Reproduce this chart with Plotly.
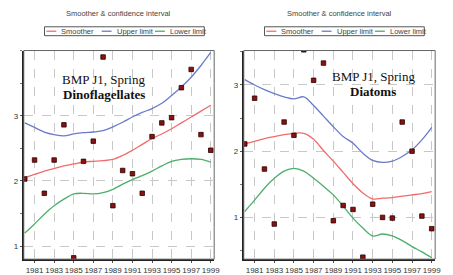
import plotly.graph_objects as go

years = list(range(1980, 2000))

# Dinoflagellates (left)
dino_obs = [2.03, 2.32, 1.81, 2.32, 2.86, 0.82, 2.30, 2.61, 3.90, 1.62,
            2.16, 2.11, 1.81, 2.68, 2.89, 2.97, 3.43, 3.71, 2.71, 2.47]
dino_smooth = [2.05, 2.10, 2.15, 2.19, 2.23, 2.26, 2.29, 2.30, 2.31, 2.33,
               2.39, 2.47, 2.56, 2.65, 2.72, 2.80, 2.89, 2.98, 3.07, 3.16]
dino_upper = [2.89, 2.82, 2.75, 2.71, 2.69, 2.72, 2.74, 2.75, 2.77, 2.83,
              2.90, 2.98, 3.05, 3.11, 3.19, 3.31, 3.44, 3.59, 3.77, 3.97]
dino_lower = [1.20, 1.34, 1.49, 1.62, 1.72, 1.80, 1.81, 1.80, 1.82, 1.87,
              1.95, 2.02, 2.08, 2.15, 2.23, 2.30, 2.33, 2.34, 2.33, 2.29]

# Diatoms (right)
diat_obs = [2.11, 2.80, 1.73, 0.90, 2.44, 2.24, 3.53, 3.07, 3.33, 0.95,
            1.18, 1.12, 0.40, 1.20, 1.00, 0.99, 2.44, 2.00, 1.02, 0.83]
diat_smooth = [2.11, 2.15, 2.19, 2.22, 2.25, 2.27, 2.27, 2.18, 2.01, 1.85,
               1.68, 1.51, 1.37, 1.28, 1.29, 1.30, 1.32, 1.34, 1.36, 1.39]
diat_upper = [3.08, 3.00, 2.93, 2.87, 2.82, 2.79, 2.82, 2.69, 2.53, 2.37,
              2.22, 2.12, 1.97, 1.86, 1.83, 1.85, 1.92, 2.02, 2.17, 2.36]
diat_lower = [1.09, 1.26, 1.44, 1.59, 1.70, 1.74, 1.70, 1.59, 1.47, 1.34,
              1.17, 0.99, 0.84, 0.72, 0.75, 0.72, 0.65, 0.56, 0.48, 0.39]

xtick_vals = list(range(1981, 2000, 2))
xtick_text = [str(v) for v in xtick_vals]
ytick_vals = [1, 2, 3]
ytick_text = ["1", "2", "3"]

series_names = ["Smoother", "Upper limit", "Lower limit"]
series_colors = ["#F26B6B", "#6A7BC8", "#4CAE6A"]

# page body has an 8px margin; work in window pixels and shift
OFF = 8
WIN_W, WIN_H = 453, 275
W, H = WIN_W - OFF, WIN_H - OFF


def px(x):
    return (x - OFF) / W


def py(y):
    return 1 - (y - OFF) / H


panels = [
    dict(xa="x", ya="y", x0=24, x1=217, yr=[0.8, 4.0],
         obs=dino_obs, lines=[dino_smooth, dino_upper, dino_lower],
         label1="BMP J1, Spring", label2="Dinoflagellates", lx=105, ly1=80, ly2=95),
    dict(xa="x2", ya="y2", x0=247, x1=441, yr=[0.37, 3.52],
         obs=diat_obs, lines=[diat_smooth, diat_upper, diat_lower],
         label1="BMP J1, Spring", label2="Diatoms", lx=378, ly1=77, ly2=92),
]
ytop, ybot = 51, 262

fig = go.Figure()
annotations = []
shapes = []

for i, p in enumerate(panels):
    for name, col, vals in zip(series_names, series_colors, p["lines"]):
        fig.add_trace(go.Scatter(x=years, y=vals, mode="lines", name=name,
                                 line=dict(color=col, width=1.3, shape="spline"),
                                 xaxis=p["xa"], yaxis=p["ya"], showlegend=False))
    fig.add_trace(go.Scatter(x=years, y=p["obs"], mode="markers", name="obs",
                             marker=dict(symbol="square", size=4.5, color="#8B1010",
                                         line=dict(color="#2a0000", width=0.8)),
                             xaxis=p["xa"], yaxis=p["ya"], showlegend=False))
    suffix = "" if i == 0 else "2"
    axstyle = dict(showline=True, linecolor="#222", linewidth=2, mirror=False,
                   showgrid=True, gridcolor="#c8c8c8", griddash="dash", gridwidth=1,
                   zeroline=False, tickfont=dict(size=8, color="#333", family="Liberation Sans"),
                   ticks="outside", ticklen=2, tickcolor="#555")
    fig.layout["xaxis" + suffix] = dict(
        domain=[px(p["x0"]), px(p["x1"])], anchor="y" + suffix,
        range=[1979.9, 1999.35], tickvals=xtick_vals, ticktext=xtick_text,
        tickangle=0, **axstyle)
    fig.layout["yaxis" + suffix] = dict(
        domain=[py(ybot), py(ytop)], anchor="x" + suffix,
        range=p["yr"], tickvals=ytick_vals, ticktext=ytick_text,
        minor=dict(dtick=0.5, ticks="outside", ticklen=2, tickcolor="#777", showgrid=False),
        **axstyle)
    shapes.append(dict(type="rect", xref="x" + suffix + " domain", yref="y" + suffix + " domain",
                       x0=0, x1=1, y0=0, y1=1, line=dict(color="#666", width=1), layer="above"))
    cx = (p["x0"] + p["x1"]) / 2
    annotations.append(dict(text="Smoother & confidence interval", x=px(cx), y=py(14),
                            xanchor="center", yanchor="middle",
                            xref="paper", yref="paper", showarrow=False,
                            font=dict(size=7.5, color="#444", family="Liberation Sans")))
    annotations.append(dict(text=p["label1"], x=px(p["lx"]), y=py(p["ly1"]),
                            xanchor="center", yanchor="middle",
                            xref="paper", yref="paper", showarrow=False,
                            font=dict(size=13, color="#111", family="Liberation Serif")))
    annotations.append(dict(text="<b>" + p["label2"] + "</b>", x=px(p["lx"]), y=py(p["ly2"]),
                            xanchor="center", yanchor="middle",
                            xref="paper", yref="paper", showarrow=False,
                            font=dict(size=13, color="#111", family="Liberation Serif")))
    lx0 = p["x0"] + 21
    shapes.append(dict(type="rect", xref="paper", yref="paper",
                       x0=px(lx0), x1=px(lx0 + 162), y0=py(36), y1=py(27),
                       line=dict(color="#555", width=1)))
    offsets = [2, 58, 112]
    for off, name, col in zip(offsets, series_names, series_colors):
        sx = lx0 + off
        shapes.append(dict(type="line", xref="paper", yref="paper",
                           x0=px(sx), x1=px(sx + 10), y0=py(31.5), y1=py(31.5),
                           line=dict(color=col, width=1.3)))
        annotations.append(dict(text=name, x=px(sx + 13), y=py(31.5),
                                xanchor="left", yanchor="middle",
                                xref="paper", yref="paper", showarrow=False,
                                font=dict(size=7.5, color="#444", family="Liberation Sans")))

fig.update_layout(width=W, height=H, margin=dict(l=0, r=0, t=0, b=0),
                  paper_bgcolor="white", plot_bgcolor="white",
                  annotations=annotations, shapes=shapes, showlegend=False)
fig.write_html("out.html")
